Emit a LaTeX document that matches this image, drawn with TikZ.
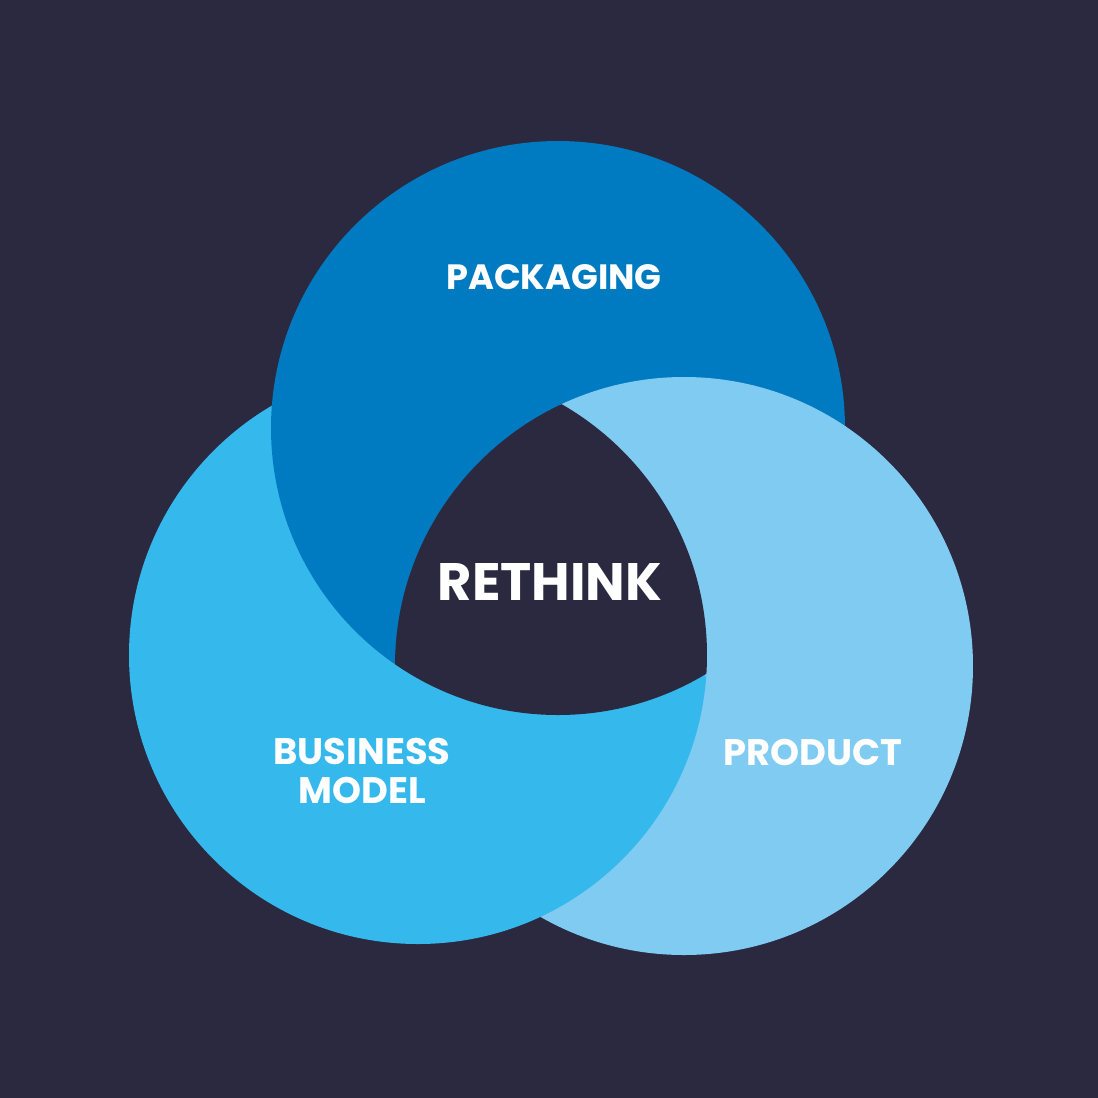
\documentclass[tikz,border=0pt]{standalone}
\usepackage{fontspec}
\setmainfont{Poppins}
\definecolor{bgnavy}{HTML}{2A2940}
\definecolor{packblue}{HTML}{007BC1}
\definecolor{busblue}{HTML}{35B8EC}
\definecolor{prodblue}{HTML}{80CBF2}
\tikzset{lbl/.style={text=white, font=\bfseries\fontsize{10.5}{11.2}\selectfont, align=center, inner sep=0pt}}
% rings (and slightly grown / shrunk copies, to hide seams)
\def\packcirc{(558,428) circle[radius=2.87cm]}
\def\packbig{(558,428) circle[radius=2.885cm]}
\def\packsmall{(558,428) circle[radius=2.855cm]}
\def\buscirc{(418,655) circle[radius=2.89cm]}
\def\bussmall{(418,655) circle[radius=2.875cm]}
\def\bussmaller{(418,655) circle[radius=2.87cm]}
\def\prodcirc{(684,666) circle[radius=2.89cm]}
\def\page{(0,0) rectangle (1098,1098)}
\begin{document}
\begin{tikzpicture}[x=0.1mm, y=-0.1mm]
    \fill[bgnavy] \page;
    % the three rings
    \fill[prodblue] \prodcirc;
    \fill[busblue] \buscirc;
    \fill[packblue] \packcirc;
    % product lies over packaging
    \begin{scope}[even odd rule]
        \clip \packbig;
        \clip \page \bussmall;
        \fill[prodblue] \prodcirc;
    \end{scope}
    % business model lies over product
    \begin{scope}[even odd rule]
        \clip \prodcirc;
        \clip \bussmaller;
        \clip \page \packsmall;
        \fill[busblue] \page;
    \end{scope}
    % hole in the middle
    \begin{scope}
        \clip \packcirc; \clip \buscirc;
        \fill[bgnavy] \prodcirc;
    \end{scope}
    % labels
    \node[lbl, font=\bfseries\fontsize{10}{11}\selectfont] (pack) at (554,277) {PACKAGING};
    \node[lbl, font=\bfseries\fontsize{15}{18}\selectfont] (rethink) at (550,582) {RETHINK};
    \node[lbl] (bus) at (362,771) {BUSINESS\\MODEL};
    \node[lbl] (prod) at (813,752) {PRODUCT};
\end{tikzpicture}
\end{document}
